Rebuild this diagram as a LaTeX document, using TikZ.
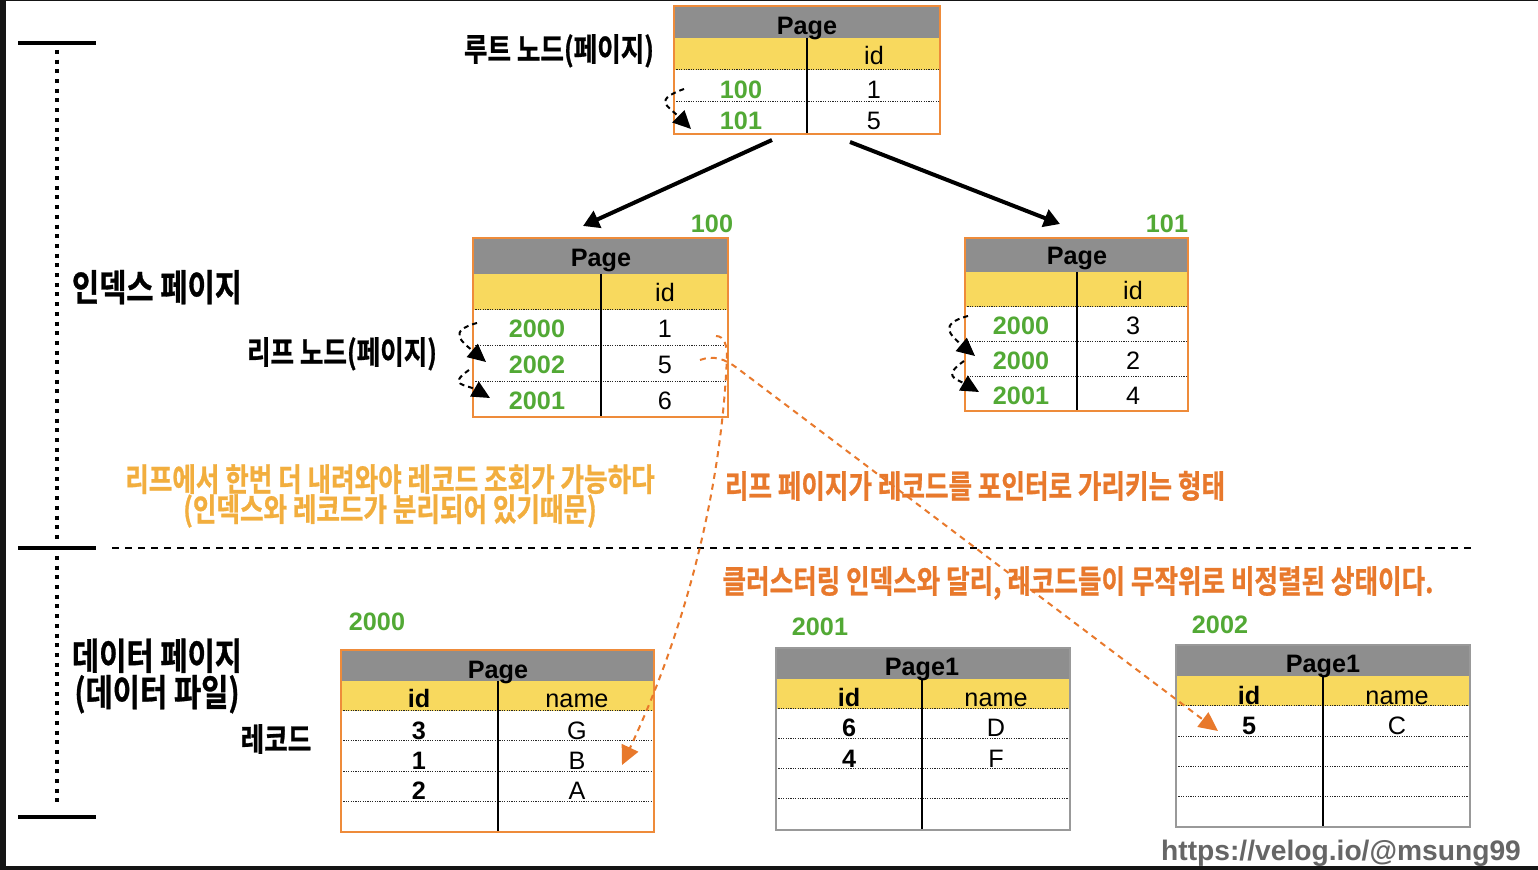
\documentclass[tikz,border=0pt]{standalone}
\usepackage{fontspec}
\setmainfont{Liberation Sans}
\newfontfamily\krfont{Noto Sans CJK KR Bold}[FakeStretch=0.80, FakeBold=0.8]
\usetikzlibrary{arrows.meta}

\definecolor{hdrgray}{HTML}{8E8E8E}
\definecolor{hdryellow}{HTML}{F8D95E}
\definecolor{tblorange}{HTML}{EE8B3A}
\definecolor{keygreen}{HTML}{52A935}
\definecolor{noteorange}{HTML}{E8792C}
\definecolor{notelight}{HTML}{F2AE3E}
\definecolor{urlgray}{HTML}{666666}
\definecolor{framedark}{HTML}{151515}

\tikzset{
  tbltxt/.style={anchor=base, font=\fontsize{12.6}{14}\selectfont},
  tblbold/.style={anchor=base, font=\fontsize{12.6}{14}\selectfont\bfseries},
  keytxt/.style={tblbold, text=keygreen},
  krlabel/.style={anchor=base, font=\krfont\fontsize{16}{15}\selectfont},
  krbig/.style={font=\krfont\fontsize{18.5}{16.5}\selectfont},
  rowline/.style={black!85, line width=0.5pt, dash pattern=on 0.6pt off 0.6pt},
  colline/.style={black, line width=1pt},
  hop/.style={black, line width=1pt, dash pattern=on 2.5pt off 2pt, -{Triangle[length=9pt,width=8.5pt]}},
  ptr/.style={noteorange, line width=1pt, dash pattern=on 3pt off 2.5pt, -{Triangle[length=9.5pt,width=9pt]}},
  tree/.style={black, line width=2pt, -{Triangle[length=8pt,width=9pt]}},
}

\begin{document}
\begin{tikzpicture}[x=0.5pt, y=-0.5pt]
    \useasboundingbox (0,0) rectangle (1538,870);
    % frame
    \fill[framedark] (0,0) rectangle (1538,870);
    \fill[white] (6,1.5) rectangle (1538,866);

    % left bracket
    \draw[line width=2pt] (18,43) -- (96,43);
    \draw[line width=2pt] (18,548) -- (96,548);
    \draw[line width=2pt] (18,817) -- (96,817);
    \draw[line width=2pt, dash pattern=on 2pt off 2.85pt] (57,50) -- (57,540);
    \draw[line width=2pt, dash pattern=on 2pt off 2.85pt] (57,556) -- (57,808);
    % index / data border
    \draw[line width=1pt, dash pattern=on 3.5pt off 3pt] (112,548) -- (1472,548);

    % root page
    \fill[hdrgray] (674,6) rectangle (940,38);
    \fill[hdryellow] (674,38) rectangle (940,70);
    \draw[rowline] (674,70) -- (940,70) (674,102) -- (940,102);
    \draw[colline] (807,38) -- (807,134);
    \draw[tblorange, line width=0.75pt] (674,6) rectangle (940,134);
    \node[tblbold] (rootHd) at (807,35) {Page};
    \node[tbltxt] (rootId) at (874,65) {id};
    \node[keytxt] (root100) at (741,99) {100};
    \node[tbltxt] (rootOne) at (874,99) {1};
    \node[keytxt] (root101) at (741,130) {101};
    \node[tbltxt] (rootFive) at (874,130) {5};

    % leaf page 100
    \fill[hdrgray] (473,238) rectangle (728,274);
    \fill[hdryellow] (473,274) rectangle (728,310);
    \draw[rowline] (473,310) -- (728,310) (473,346) -- (728,346) (473,382) -- (728,382);
    \draw[colline] (601,274) -- (601,417);
    \draw[tblorange, line width=0.75pt] (473,238) rectangle (728,417);
    \node[keytxt] (leafA) at (712,233) {100};
    \node[tblbold] (leafAHd) at (601,267) {Page};
    \node[tbltxt] (leafAId) at (665,302) {id};
    \node[keytxt] (leafA1) at (537,338) {2000};
    \node[tbltxt] at (665,338) {1};
    \node[keytxt] (leafA2) at (537,374) {2002};
    \node[tbltxt] at (665,374) {5};
    \node[keytxt] (leafA3) at (537,410) {2001};
    \node[tbltxt] at (665,410) {6};

    % leaf page 101
    \fill[hdrgray] (965,238) rectangle (1188,272);
    \fill[hdryellow] (965,272) rectangle (1188,307);
    \draw[rowline] (965,307) -- (1188,307) (965,342) -- (1188,342) (965,377) -- (1188,377);
    \draw[colline] (1077,272) -- (1077,411);
    \draw[tblorange, line width=0.75pt] (965,238) rectangle (1188,411);
    \node[keytxt] (leafB) at (1167,233) {101};
    \node[tblbold] (leafBHd) at (1077,265) {Page};
    \node[tbltxt] (leafBId) at (1133,300) {id};
    \node[keytxt] (leafB1) at (1021,335) {2000};
    \node[tbltxt] at (1133,335) {3};
    \node[keytxt] (leafB2) at (1021,370) {2000};
    \node[tbltxt] at (1133,370) {2};
    \node[keytxt] (leafB3) at (1021,405) {2001};
    \node[tbltxt] at (1133,405) {4};

    % data page 2000
    \fill[hdrgray] (341,650) rectangle (654,681);
    \fill[hdryellow] (341,681) rectangle (654,711);
    \foreach \y in {711,741,772,802}
        \draw[rowline] (341,\y) -- (654,\y);
    \draw[colline] (498,681) -- (498,832);
    \draw[tblorange, line width=0.75pt] (341,650) rectangle (654,832);
    \node[keytxt] (dataA) at (377,631) {2000};
    \node[tblbold] (dataAHd) at (498,679) {Page};
    \node[tblbold] at (419,708) {id};
    \node[tbltxt] at (577,708) {name};
    \node[tblbold] at (419,740) {3};
    \node[tbltxt] at (577,740) {G};
    \node[tblbold] at (419,770) {1};
    \node[tbltxt] (recB) at (577,770) {B};
    \node[tblbold] at (419,800) {2};
    \node[tbltxt] at (577,800) {A};

    % data page 2001
    \fill[hdrgray] (776,648) rectangle (1070,679);
    \fill[hdryellow] (776,679) rectangle (1070,709);
    \foreach \y in {709,739,769,799}
        \draw[rowline] (776,\y) -- (1070,\y);
    \draw[colline] (922,679) -- (922,830);
    \draw[black!40, line width=0.75pt] (776,648) rectangle (1070,830);
    \node[keytxt] (dataB) at (820,636) {2001};
    \node[tblbold] (dataBHd) at (922,676) {Page1};
    \node[tblbold] at (849,707) {id};
    \node[tbltxt] at (996,707) {name};
    \node[tblbold] at (849,737) {6};
    \node[tbltxt] at (996,737) {D};
    \node[tblbold] at (849,768) {4};
    \node[tbltxt] at (996,768) {F};

    % data page 2002
    \fill[hdrgray] (1176,645) rectangle (1470,676);
    \fill[hdryellow] (1176,676) rectangle (1470,706);
    \foreach \y in {706,737,767,797}
        \draw[rowline] (1176,\y) -- (1470,\y);
    \draw[colline] (1323,676) -- (1323,827);
    \draw[black!40, line width=0.75pt] (1176,645) rectangle (1470,827);
    \node[keytxt] (dataC) at (1220,634) {2002};
    \node[tblbold] (dataCHd) at (1323,673) {Page1};
    \node[tblbold] at (1249,705) {id};
    \node[tbltxt] at (1397,705) {name};
    \node[tblbold] (recC) at (1249,735) {5};
    \node[tbltxt] at (1397,735) {C};

    % root -> leaf pages
    \coordinate (rootOutL) at (772,140);
    \coordinate (leafInA) at (583,226);
    \coordinate (rootOutR) at (850,142);
    \coordinate (leafInB) at (1060,224);
    \draw[tree] (rootOutL) -- (leafInA);
    \draw[tree] (rootOutR) -- (leafInB);

    % sibling hops
    \coordinate (hopRs) at (684,89);
    \coordinate (hopRe) at (691,129);
    \draw[hop] (hopRs) to[out=200, in=135, looseness=2.1] (hopRe);
    \coordinate (hopAs) at (477,323);
    \coordinate (hopAe) at (486,362);
    \draw[hop] (hopAs) to[out=195, in=140, looseness=2] (hopAe);
    \coordinate (hopBs) at (469,370);
    \coordinate (hopBe) at (490,398);
    \draw[hop] (hopBs) to[out=215, in=150, looseness=2] (hopBe);
    \coordinate (hopCs) at (968,316);
    \coordinate (hopCe) at (975,356);
    \draw[hop] (hopCs) to[out=195, in=140, looseness=2] (hopCe);
    \coordinate (hopDs) at (964,361);
    \coordinate (hopDe) at (979,392);
    \draw[hop] (hopDs) to[out=215, in=150, looseness=2] (hopDe);

    % leaf -> record pointers
    \coordinate (ptrAs) at (716,336);
    \coordinate (ptrAm) at (727,356);
    \coordinate (ptrAe) at (622,765);
    \draw[ptr] (ptrAs) to[out=0, in=90] (ptrAm) .. controls (722,480) and (690,620) .. (ptrAe);
    \coordinate (ptrBs) at (700,360);
    \coordinate (ptrBm) at (737,368);
    \coordinate (ptrBe) at (1218,731);
    \draw[ptr] (ptrBs) to[out=20, in=143] (ptrBm) -- (ptrBe);

    % labels
    \node[krlabel] (rootLbl) at (559,61) {루트 노드(페이지)};
    \node[krlabel, krbig] (idxLbl) at (157,301) {인덱스 페이지};
    \node[krlabel] (leafLbl) at (342,364) {리프 노드(페이지)};
    \node[krlabel, anchor=center, align=center, text=notelight] (noteLeaf) at (390,496)
        {리프에서 한번 더 내려와야 레코드 조회가 가능하다\\(인덱스와 레코드가 분리되어 있기때문)};
    \node[krlabel, text=noteorange] (notePtr) at (975,498) {리프 페이지가 레코드를 포인터로 가리키는 형태};
    \node[krlabel, text=noteorange] (noteRand) at (1078,593) {클러스터링 인덱스와 달리, 레코드들이 무작위로 비정렬된 상태이다.};
    \node[krlabel, krbig, anchor=center, align=center] (dataLbl) at (157,676) {데이터 페이지\\(데이터 파일)};
    \node[krlabel] (recLbl) at (276,751) {레코드};
    \node[anchor=base, text=urlgray, font=\fontsize{14.1}{16}\selectfont\bfseries] (url) at (1341,861) {https://velog.io/@msung99};
\end{tikzpicture}
\end{document}
